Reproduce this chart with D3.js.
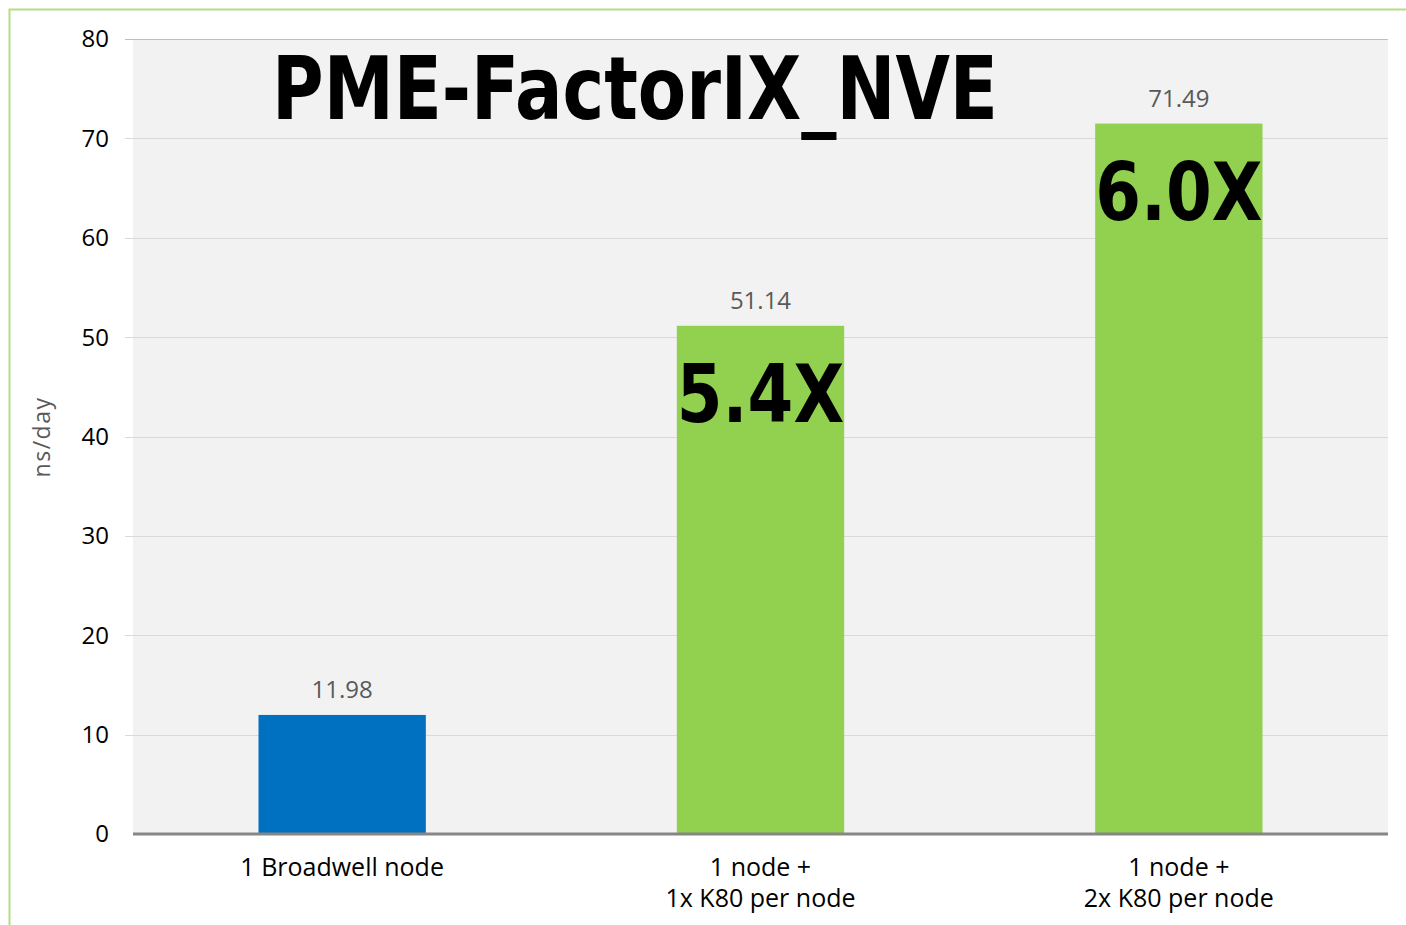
<!DOCTYPE html>
<html>
<head>
<meta charset="utf-8">
<script src="https://cdn.jsdelivr.net/npm/d3@7"></script>
<style>
  body { margin: 0; background: #fff; }
  svg { display: block; }
</style>
</head>
<body>
<svg width="1406" height="925"></svg>
<script>
var categories = [["1 Broadwell node"], ["1 node +", "1x K80 per node"], ["1 node +", "2x K80 per node"]];
var values = [11.98, 51.14, 71.49];
var barColors = ["#0070c0", "#92d050", "#92d050"];
var speedups = ["", "5.4X", "6.0X"];
var yTicks = [0, 10, 20, 30, 40, 50, 60, 70, 80];
var chartTitle = "PME-FactorIX_NVE";

var svg = d3.select("svg");
var margin = { top: 39, right: 18, bottom: 91, left: 133 };
var width = 1406 - margin.left - margin.right,
    height = 925 - margin.top - margin.bottom;

// outer frame (light green line)
svg.append("rect")
    .attr("x", 9.5).attr("y", 9.5)
    .attr("width", 1420).attr("height", 940)
    .attr("fill", "none")
    .attr("stroke", "#b4dc8c")
    .attr("stroke-width", 2);

var g = svg.append("g").attr("transform", "translate(" + margin.left + "," + margin.top + ")");

var x = d3.scaleBand().domain(d3.range(values.length)).range([0, width]).padding(0);
var y = d3.scaleLinear().domain([0, 80]).range([height, 0]);

g.append("rect")
    .attr("width", width).attr("height", height)
    .attr("fill", "#f2f2f2");

// gridlines
g.selectAll(".grid")
    .data(yTicks.filter(function (d) { return d > 0; }))
    .enter().append("line")
    .attr("x1", -8).attr("x2", width)
    .attr("y1", function (d) { return Math.round(y(d)) + 0.5; })
    .attr("y2", function (d) { return Math.round(y(d)) + 0.5; })
    .attr("stroke", function (d) { return d == 80 ? "#bfbfbf" : "#d9d9d9"; })
    .attr("stroke-width", 1);

// y tick labels
g.selectAll(".ytick")
    .data(yTicks)
    .enter().append("text")
    .attr("x", -24)
    .attr("y", function (d) { return y(d); })
    .attr("dy", "0.35em")
    .attr("text-anchor", "end")
    .attr("font-family", "Open Sans, sans-serif")
    .attr("font-size", 24)
    .attr("fill", "#000")
    .text(function (d) { return d; });

// y axis label
svg.append("text")
    .attr("transform", "translate(50,437) rotate(-90)")
    .attr("text-anchor", "middle")
    .attr("font-family", "Open Sans, sans-serif")
    .attr("font-size", 23)
    .attr("letter-spacing", 1.5)
    .attr("fill", "#595959")
    .text("ns/day");

var barW = x.bandwidth() * 0.4;

g.selectAll(".bar")
    .data(values)
    .enter().append("rect")
    .attr("x", function (d, i) { return x(i) + (x.bandwidth() - barW) / 2; })
    .attr("y", function (d) { return y(d); })
    .attr("width", barW)
    .attr("height", function (d) { return height - y(d); })
    .attr("fill", function (d, i) { return barColors[i]; });

// value labels
g.selectAll(".val")
    .data(values)
    .enter().append("text")
    .attr("x", function (d, i) { return x(i) + x.bandwidth() / 2; })
    .attr("y", function (d) { return y(d) - 17; })
    .attr("text-anchor", "middle")
    .attr("font-family", "Open Sans, sans-serif")
    .attr("font-size", 24)
    .attr("fill", "#595959")
    .text(function (d) { return d.toFixed(2); });

// speedup labels inside bars
g.selectAll(".speedup")
    .data(values)
    .enter().append("text")
    .attr("x", function (d, i) { return x(i) + x.bandwidth() / 2; })
    .attr("y", function (d) { return y(d) + 96; })
    .attr("text-anchor", "middle")
    .attr("font-family", "DejaVu Sans, sans-serif")
    .attr("font-weight", "bold")
    .attr("font-size", 80)
    .attr("textLength", barW)
    .attr("lengthAdjust", "spacingAndGlyphs")
    .attr("fill", "#000")
    .text(function (d, i) { return speedups[i]; });

// baseline axis
g.append("line")
    .attr("x1", 0).attr("x2", width)
    .attr("y1", height).attr("y2", height)
    .attr("stroke", "#868686")
    .attr("stroke-width", 3);

// x category labels
var xl = g.selectAll(".xlab")
    .data(categories)
    .enter().append("text")
    .attr("x", function (d, i) { return x(i) + x.bandwidth() / 2; })
    .attr("y", height + 42)
    .attr("text-anchor", "middle")
    .attr("font-family", "Open Sans, sans-serif")
    .attr("font-size", 25)
    .attr("fill", "#000");
xl.selectAll("tspan")
    .data(function (d) { return d; })
    .enter().append("tspan")
    .attr("x", function () { return d3.select(this.parentNode).attr("x"); })
    .attr("dy", function (d, i) { return i == 0 ? 0 : 31; })
    .text(function (d) { return d; });

// title, squeezed horizontally with a transform to the reference width
var title = svg.append("g");
var tt = title.append("text")
    .attr("x", 0)
    .attr("y", 0)
    .attr("text-anchor", "middle")
    .attr("font-family", "DejaVu Sans, sans-serif")
    .attr("font-weight", "bold")
    .attr("font-size", 88)
    .attr("fill", "#000")
    .text(chartTitle);
var sx = 726 / tt.node().getComputedTextLength();
title.attr("transform", "translate(635,119) scale(" + sx + ",1)");
</script>
</body>
</html>
